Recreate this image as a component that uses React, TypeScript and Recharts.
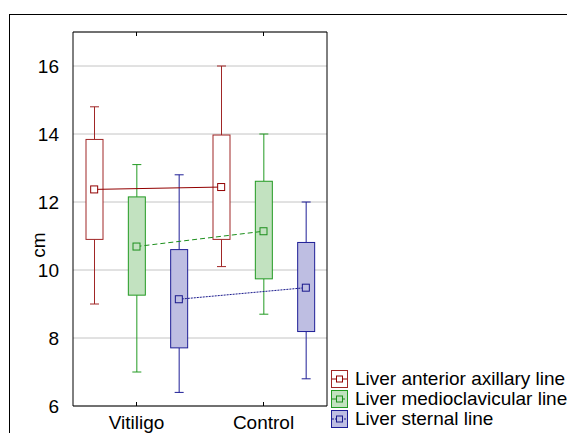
import React from 'react';
import { ComposedChart, Bar, Line, XAxis, YAxis, CartesianGrid, Legend } from 'recharts';

const groups = ['Vitiligo', 'Control'];
const seriesNames = ['Liver anterior axillary line', 'Liver medioclavicular line', 'Liver sternal line'];
// [series][group]
const whiskerLow = [[9.0, 10.1], [7.0, 8.7], [6.4, 6.8]];
const boxLow = [[10.9, 10.9], [9.26, 9.74], [7.71, 8.19]];
const meanValues = [[12.37, 12.44], [10.69, 11.14], [9.14, 9.48]];
const boxHigh = [[13.84, 13.97], [12.15, 12.61], [10.6, 10.81]];
const whiskerHigh = [[14.8, 16.0], [13.1, 14.0], [12.8, 12.0]];
const yTicks = [6, 8, 10, 12, 14, 16];
const yDomain = [6, 17];
const yLabel = 'cm';

const strokeColors = ['#a02626', '#229a22', '#1e1e96'];
const meanColors = ['#920000', '#1c8f1c', '#18188c'];
const fillColors = ['#ffffff', '#c2e2c0', '#bebee2'];
const meanDash = [undefined, '5 3', '2 1'];

const FONT = '"Liberation Sans", Arial, sans-serif';

type Row = Record<string, any>;
const rows: Row[] = [];
groups.forEach((g, gi) => {
  seriesNames.forEach((_, si) => {
    const row: Row = {
      key: `${g}|${si}`,
      group: g,
      gi,
      si,
      box: [boxLow[si][gi], boxHigh[si][gi]],
      lo: whiskerLow[si][gi],
      hi: whiskerHigh[si][gi],
    };
    row[`m${si}`] = meanValues[si][gi];
    rows.push(row);
  });
});

const BoxShape = (props: any) => {
  const { x, y, width, height, payload } = props;
  if (!payload || x == null || y == null) return <g />;
  const [q1, q3] = payload.box;
  const top = Math.min(y, y + height);
  const h = Math.abs(height);
  const unit = h / (q3 - q1);
  const yOf = (v: number) => top + (q3 - v) * unit;
  const cx = x + width / 2;
  const c = strokeColors[payload.si];
  const cap = 4.5;
  const yHi = yOf(payload.hi);
  const yLo = yOf(payload.lo);
  return (
    <g>
      <line x1={cx} x2={cx} y1={yHi} y2={top} stroke={c} strokeWidth={1} />
      <line x1={cx} x2={cx} y1={top + h} y2={yLo} stroke={c} strokeWidth={1} />
      <line x1={cx - cap} x2={cx + cap} y1={yHi} y2={yHi} stroke={c} strokeWidth={1} />
      <line x1={cx - cap} x2={cx + cap} y1={yLo} y2={yLo} stroke={c} strokeWidth={1} />
      <rect x={x} y={top} width={width} height={h} fill={fillColors[payload.si]} stroke={c} strokeWidth={1} />
    </g>
  );
};

const makeDot = (si: number) => (props: any) => {
  const { cx, cy, index, value } = props;
  if (cx == null || cy == null || value == null || Number.isNaN(cy)) return <g key={`d${si}-${index}`} />;
  return (
    <rect
      key={`d${si}-${index}`}
      x={cx - 3.5}
      y={cy - 3.5}
      width={7}
      height={7}
      fill={fillColors[si]}
      stroke={meanColors[si]}
      strokeWidth={1}
    />
  );
};

const BottomTick = (props: any) => {
  const { x, y, payload } = props;
  const [g, si] = String(payload.value).split('|');
  if (si !== '1') return <g />;
  return (
    <g>
      <line x1={x} x2={x} y1={y} y2={y - 4} stroke="#000" />
      <text x={x} y={y + 23} textAnchor="middle" fill="#000" fontSize={19} fontFamily={FONT}>
        {g}
      </text>
    </g>
  );
};

const TopTick = (props: any) => {
  const { x, y, payload } = props;
  const [, si] = String(payload.value).split('|');
  if (si !== '1') return <g />;
  return <line x1={x} x2={x} y1={y} y2={y + 4} stroke="#000" />;
};

const EmptyTick = () => <g />;

const YLabel = (props: any) => {
  const vb = props.viewBox || { x: 13, y: 32, width: 60, height: 374 };
  const lx = vb.x + 25;
  const ly = vb.y + vb.height / 2 + 26;
  return (
    <text
      x={lx}
      y={ly}
      transform={`rotate(-90, ${lx}, ${ly})`}
      textAnchor="middle"
      dominantBaseline="central"
      fill="#000"
      fontSize={19}
      fontFamily={FONT}
    >
      {yLabel}
    </text>
  );
};

const LegendContent = () => (
  <div style={{ fontFamily: FONT, fontSize: 19, color: '#000' }}>
    {seriesNames.map((name, si) => (
      <div key={name} style={{ display: 'flex', alignItems: 'center', height: 20, lineHeight: '20px', whiteSpace: 'nowrap' }}>
        <svg width={17} height={18} style={{ marginRight: 7, flex: 'none' }}>
          <rect x={0.5} y={0.5} width={16} height={17} fill={fillColors[si]} stroke={strokeColors[si]} />
          <line x1={1} x2={16} y1={9} y2={9} stroke={meanColors[si]} strokeDasharray={meanDash[si]} />
          <rect x={5.5} y={6} width={6} height={6} fill={fillColors[si]} stroke={meanColors[si]} />
        </svg>
        <span>{name}</span>
      </div>
    ))}
  </div>
);

const AXIS_LINE = { stroke: '#000', strokeWidth: 1 };

export default function App() {
  return (
    <div style={{ position: 'absolute', left: 0, top: 0, width: 567, height: 433, background: '#fff' }}>
      <ComposedChart
        width={567}
        height={433}
        data={rows}
        margin={{ top: 31, right: 240, bottom: 0, left: 13 }}
        style={{ fontFamily: FONT }}
      >
        <rect x={9.5} y={14.5} width={700} height={600} fill="none" stroke="#000" strokeWidth={1} />
        <CartesianGrid horizontal vertical={false} stroke="#c4c4c4" strokeWidth={1} />
        <XAxis
          dataKey="key"
          type="category"
          height={27}
          axisLine={AXIS_LINE}
          tickLine={false}
          tickSize={0}
          tickMargin={0}
          interval={0}
          tick={<BottomTick />}
        />
        <XAxis
          xAxisId="top"
          dataKey="key"
          type="category"
          orientation="top"
          height={1}
          axisLine={AXIS_LINE}
          tickLine={false}
          tickSize={0}
          tickMargin={0}
          interval={0}
          tick={<TopTick />}
        />
        <YAxis
          type="number"
          domain={yDomain}
          ticks={yTicks}
          interval={0}
          width={60}
          axisLine={AXIS_LINE}
          tickLine={false}
          tickMargin={8}
          tick={{ fill: '#000', fontSize: 19, fontFamily: FONT }}
          label={<YLabel />}
        />
        <YAxis
          yAxisId="right"
          orientation="right"
          type="number"
          domain={yDomain}
          ticks={yTicks}
          interval={0}
          width={1}
          mirror
          axisLine={AXIS_LINE}
          tickLine={{ stroke: '#000' }}
          tickSize={4}
          tick={<EmptyTick />}
        />
        <Bar dataKey="box" barSize={17} shape={<BoxShape />} isAnimationActive={false} legendType="none" />
        {seriesNames.map((name, si) => (
          <Line
            key={name}
            name={name}
            dataKey={`m${si}`}
            type="linear"
            connectNulls
            stroke={meanColors[si]}
            strokeWidth={1}
            strokeDasharray={meanDash[si]}
            dot={makeDot(si)}
            activeDot={false}
            isAnimationActive={false}
          />
        ))}
        <Legend
          layout="vertical"
          align="center"
          verticalAlign="middle"
          content={<LegendContent />}
          wrapperStyle={{ position: 'absolute', left: 331, top: 369, width: 240, bottom: 'auto', right: 'auto' }}
        />
      </ComposedChart>
    </div>
  );
}
